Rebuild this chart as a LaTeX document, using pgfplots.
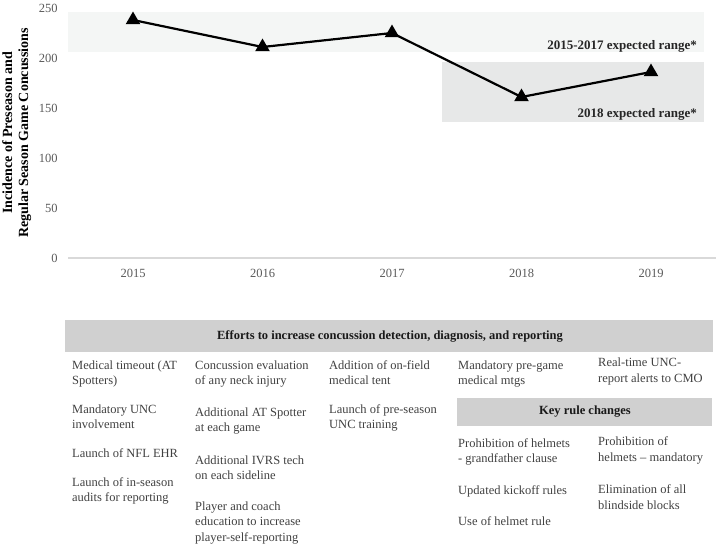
\documentclass[border=0pt]{standalone}
\usepackage{fontspec}
\setmainfont{Liberation Serif}
\usepackage{pgfplots}
\pgfplotsset{compat=1.18}
\definecolor{tickgray}{HTML}{595959}
\definecolor{bandA}{HTML}{F4F6F5}
\definecolor{bandB}{HTML}{E7E8E8}
\definecolor{bargray}{HTML}{D0D0D0}
\definecolor{txtgray}{HTML}{404040}
\definecolor{axgray}{HTML}{D9D9D9}
% one line of the table, placed by its baseline
\newcommand\tl[3]{\node[anchor=base west, inner sep=0pt, text=txtgray,
  font=\fontsize{12.5bp}{15bp}\selectfont] at (#1,#2) {#3};}

\begin{document}
\begin{tikzpicture}
\path[use as bounding box] (0,0) rectangle (718bp,-548bp);
\begin{axis}[
  at={(68.25bp,-258bp)}, anchor=south west,
  scale only axis, width=647.5bp, height=250bp,
  xmin=-0.5, xmax=4.5, ymin=0, ymax=250,
  xtick={0,...,4}, xticklabels={2015,2016,2017,2018,2019},
  ytick={0,50,...,250},
  axis x line=bottom, axis y line=left,
  x axis line style={-, draw=axgray, line width=1.5bp},
  y axis line style={draw=none},
  major tick length=0pt,
  tick label style={font=\fontsize{12.5bp}{14bp}\selectfont, text=tickgray},
  yticklabel style={xshift=-7bp},
  xticklabel style={yshift=-8bp},
  /pgf/number format/assume math mode=true,
  ylabel={Incidence of Preseason and\\Regular Season Game Concussions},
  ylabel style={at={(axis description cs:-0.0795,0.5)}, anchor=center,
    align=center, font=\bfseries\fontsize{14bp}{16bp}\selectfont},
  clip=false,
]
% expected ranges
\addplot[draw=none, fill=bandA] coordinates {(-0.5,206) (4.409,206) (4.409,246) (-0.5,246)} -- cycle;
\addplot[draw=none, fill=bandB] coordinates {(2.386,136) (4.409,136) (4.409,196) (2.386,196)} -- cycle;
\node[anchor=east, inner sep=0pt, font=\bfseries\fontsize{13bp}{14bp}\selectfont, text=black!85]
  at (axis cs:4.355,212) {2015-2017 expected range*};
\node[anchor=east, inner sep=0pt, font=\bfseries\fontsize{13bp}{14bp}\selectfont, text=black!85]
  at (axis cs:4.355,144) {2018 expected range*};
% concussions
\addplot[black, line width=2.2bp, mark=triangle*, mark size=6.3pt,
  mark options={solid}] coordinates {
  (0,238) (1,211) (2,225) (3,161) (4,186)
};
\end{axis}

\begin{scope}[x=1bp, y=-1bp]
\fill[bargray] (65,320) rectangle (713,352);
\node[font=\bfseries\fontsize{12.5bp}{14bp}\selectfont, text=black!90]
  at (390,336) {Efforts to increase concussion detection, diagnosis, and reporting};
\fill[bargray] (457,398) rectangle (712,426);
\node[font=\bfseries\fontsize{12.5bp}{14bp}\selectfont, text=black!90]
  at (585,412) {Key rule changes};
% column 1
\tl{72}{369}{Medical timeout (AT}
\tl{72}{384}{Spotters)}
\tl{72}{413}{Mandatory UNC}
\tl{72}{428}{involvement}
\tl{72}{457}{Launch of NFL EHR}
\tl{72}{486}{Launch of in-season}
\tl{72}{501}{audits for reporting}
% column 2
\tl{195}{369}{Concussion evaluation}
\tl{195}{384}{of any neck injury}
\tl{195}{416}{Additional AT Spotter}
\tl{195}{431}{at each game}
\tl{195}{464}{Additional IVRS tech}
\tl{195}{479}{on each sideline}
\tl{195}{510}{Player and coach}
\tl{195}{525}{education to increase}
\tl{195}{541}{player-self-reporting}
% column 3
\tl{329}{369}{Addition of on-field}
\tl{329}{384}{medical tent}
\tl{329}{413}{Launch of pre-season}
\tl{329}{428}{UNC training}
% column 4
\tl{458}{369}{Mandatory pre-game}
\tl{458}{384}{medical mtgs}
\tl{458}{447}{Prohibition of helmets}
\tl{458}{462}{- grandfather clause}
\tl{458}{494}{Updated kickoff rules}
\tl{458}{525}{Use of helmet rule}
% column 5
\tl{598}{366}{Real-time UNC-}
\tl{598}{382}{report alerts to CMO}
\tl{598}{445}{Prohibition of}
\tl{598}{461}{helmets – mandatory}
\tl{598}{493}{Elimination of all}
\tl{598}{509}{blindside blocks}
\end{scope}
\end{tikzpicture}
\end{document}
